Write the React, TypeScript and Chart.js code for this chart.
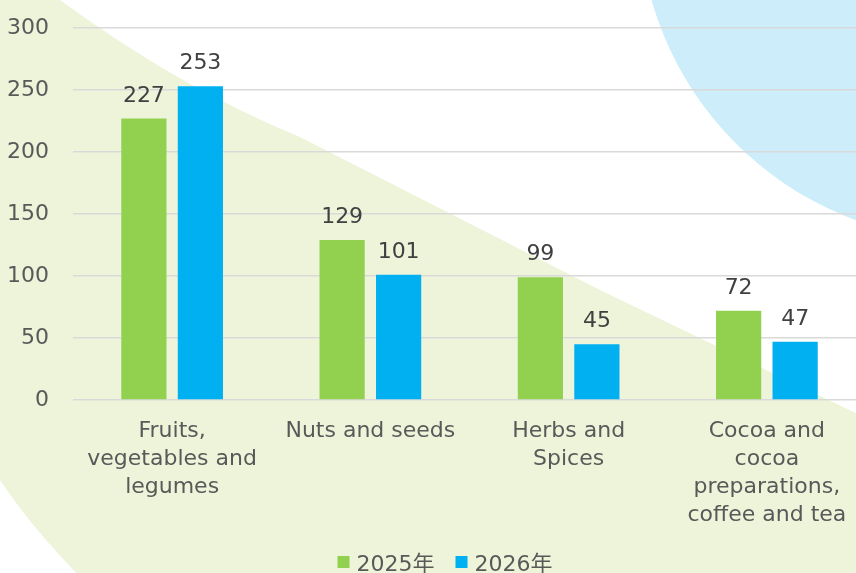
import React, { useEffect, useRef } from "react";
import { Chart, registerables } from "chart.js";

Chart.register(...registerables);

const categories: string[][] = [
  ["Fruits,", "vegetables and", "legumes"],
  ["Nuts and seeds"],
  ["Herbs and", "Spices"],
  ["Cocoa and", "cocoa", "preparations,", "coffee and tea"],
];
const seriesNames = ["2025年", "2026年"];
const values2025 = [227, 129, 99, 72];
const values2026 = [253, 101, 45, 47];
const yMin = 0;
const yMax = 300;
const yStep = 50;

const GREEN = "#92D050";
const BLUE = "#00B0F0";
const FONT = "'DejaVu Sans', 'Noto Sans CJK SC', sans-serif";

const CANVAS_W = 866;
const CANVAS_H = 600;
const X_AXIS_H = 130;
const BOTTOM_PAD = 70;

const backgroundPlugin = {
  id: "bgShapes",
  beforeDraw(chart: any) {
    const ctx = chart.ctx;
    const H = chart.height;
    const W = chart.width;
    ctx.save();
    ctx.fillStyle = "#FFFFFF";
    ctx.fillRect(0, 0, W, H);
    ctx.fillStyle = "#EEF4DA";
    ctx.beginPath();
    ctx.moveTo(0, 0);
    ctx.lineTo(60, 0);
    ctx.quadraticCurveTo(180, 88, 300, 137);
    ctx.lineTo(600, 290);
    ctx.lineTo(W, 418);
    ctx.lineTo(W, H);
    ctx.lineTo(104, H);
    ctx.quadraticCurveTo(40, 540, 0, 480);
    ctx.closePath();
    ctx.fill();
    ctx.fillStyle = "#CCEDF9";
    ctx.beginPath();
    ctx.arc(969, -90, 330, 0, Math.PI * 2);
    ctx.fill();
    ctx.restore();
  },
};

const valueLabelPlugin = {
  id: "valueLabels",
  afterDatasetsDraw(chart: any) {
    const ctx = chart.ctx;
    ctx.save();
    ctx.font = `22px ${FONT}`;
    ctx.fillStyle = "#404040";
    ctx.textAlign = "center";
    ctx.textBaseline = "alphabetic";
    chart.data.datasets.forEach((ds: any, i: number) => {
      const meta = chart.getDatasetMeta(i);
      meta.data.forEach((bar: any, j: number) => {
        ctx.fillText(String(ds.data[j]), bar.x, bar.y - 17);
      });
    });
    ctx.restore();
  },
};

const legendPlugin = {
  id: "customLegend",
  afterDraw(chart: any) {
    const ctx = chart.ctx;
    ctx.save();
    ctx.font = `22px ${FONT}`;
    const box = 12;
    const gap = 7;
    const itemGap = 21;
    const items = chart.data.datasets.map((ds: any) => ({
      text: ds.label,
      color: ds.backgroundColor,
      w: box + gap + ctx.measureText(ds.label).width,
    }));
    const total =
      items.reduce((s: number, it: any) => s + it.w, 0) +
      itemGap * (items.length - 1);
    const center = 445;
    let x = center - total / 2;
    const boxTop = chart.chartArea.bottom + 156;
    items.forEach((it: any) => {
      ctx.fillStyle = it.color;
      ctx.fillRect(x, boxTop, box, box);
      ctx.fillStyle = "#595959";
      ctx.textAlign = "left";
      ctx.textBaseline = "alphabetic";
      ctx.fillText(it.text, x + box + gap, boxTop + 15);
      x += it.w + itemGap;
    });
    ctx.restore();
  },
};

export default function App() {
  const canvasRef = useRef<HTMLCanvasElement | null>(null);

  useEffect(() => {
    if (!canvasRef.current) return;
    const chart = new Chart(canvasRef.current, {
      type: "bar",
      data: {
        labels: categories as any,
        datasets: [
          {
            label: seriesNames[0],
            data: values2025,
            backgroundColor: GREEN,
            categoryPercentage: 0.57,
            barPercentage: 0.8,
          },
          {
            label: seriesNames[1],
            data: values2026,
            backgroundColor: BLUE,
            categoryPercentage: 0.57,
            barPercentage: 0.8,
          },
        ],
      },
      options: {
        responsive: false,
        animation: false,
        layout: { padding: { top: 28, right: 0, left: 0, bottom: BOTTOM_PAD } },
        scales: {
          x: {
            grid: { display: false, drawTicks: false },
            border: { display: false },
            ticks: {
              color: "#595959",
              font: { family: FONT, size: 22, lineHeight: "28px" as any },
              padding: 17,
              maxRotation: 0,
              autoSkip: false,
            },
            afterFit: (scale: any) => {
              scale.height = X_AXIS_H;
            },
          },
          y: {
            min: yMin,
            max: yMax,
            grid: { color: "#D9D9D9", lineWidth: 1.5, drawTicks: false },
            border: { display: false },
            ticks: {
              stepSize: yStep,
              color: "#595959",
              font: { family: FONT, size: 22 },
              padding: 24,
            },
            afterFit: (scale: any) => {
              scale.width = 73;
              scale.paddingTop = 14;
              scale.paddingBottom = 14;
            },
          },
        },
        plugins: {
          legend: { display: false },
          tooltip: { enabled: false },
        },
      },
      plugins: [backgroundPlugin, valueLabelPlugin, legendPlugin],
    });
    return () => chart.destroy();
  }, []);

  return (
    <div
      style={{
        position: "absolute",
        left: 0,
        top: 0,
        width: 856,
        height: 573,
        overflow: "hidden",
        background: "#fff",
      }}
    >
      <canvas
        ref={canvasRef}
        width={CANVAS_W}
        height={CANVAS_H}
        style={{ display: "block", width: CANVAS_W, height: CANVAS_H }}
      />
    </div>
  );
}
